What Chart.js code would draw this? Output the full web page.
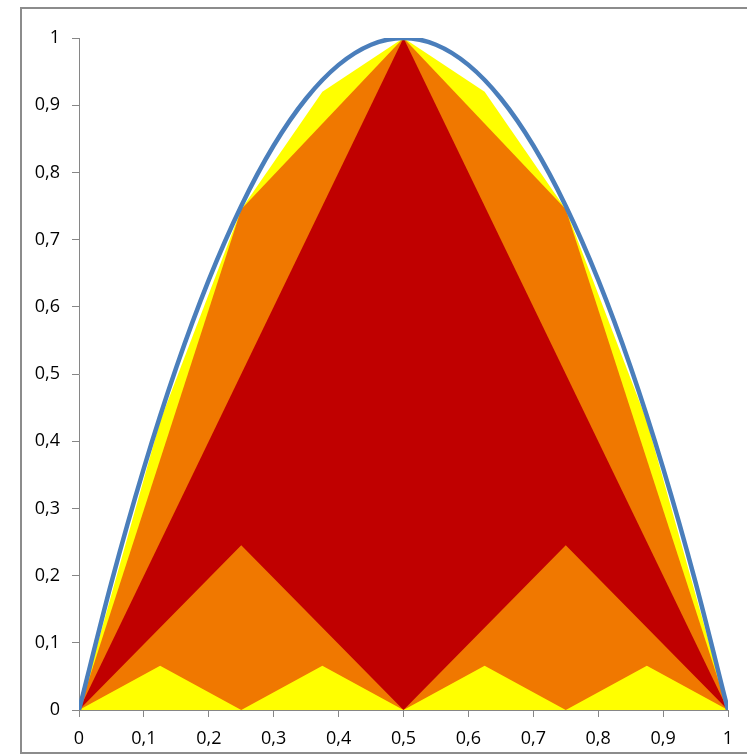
<!DOCTYPE html>
<html>
<head>
<meta charset="utf-8">
<script src="https://cdn.jsdelivr.net/npm/chart.js@4.4.0/dist/chart.umd.min.js"></script>
<style>
  body { margin: 0; background: #fff; }
  #wrap { width: 747px; height: 756px; }
</style>
</head>
<body>
<div id="wrap"><canvas id="chart" width="747" height="756"></canvas></div>
<script>
// dati
const xCurve = [0, 0.05, 0.1, 0.15, 0.2, 0.25, 0.3, 0.35, 0.4, 0.45, 0.5, 0.55, 0.6, 0.65, 0.7, 0.75, 0.8, 0.85, 0.9, 0.95, 1];
const yCurve = [0, 0.19, 0.36, 0.51, 0.64, 0.75, 0.84, 0.91, 0.96, 0.99, 1, 0.99, 0.96, 0.91, 0.84, 0.75, 0.64, 0.51, 0.36, 0.19, 0];

const xHalf = [0, 0.5, 1];
const yTent = [0, 1, 0];

const xQuarter = [0, 0.25, 0.5, 0.75, 1];
const yOrange = [0, 0.745, 1, 0.745, 0];
const yOrangeBumps = [0, 0.245, 0, 0.245, 0];

const xEighth = [0, 0.125, 0.25, 0.375, 0.5, 0.625, 0.75, 0.875, 1];
const yYellow = [0, 0.43, 0.745, 0.92, 1, 0.92, 0.745, 0.43, 0];
const yYellowBumps = [0, 0.066, 0, 0.066, 0, 0.066, 0, 0.066, 0];

const BLUE = '#4a7ebb';
const YELLOW = '#ffff00';
const ORANGE = '#f07800';
const RED = '#c00000';
const AXIS = '#868686';

function punti(xs, ys) {
    return xs.map((x, i) => ({ x: x, y: ys[i] }));
}

function area(label, xs, ys, color, order) {
    return {
        label: label,
        data: punti(xs, ys),
        backgroundColor: color,
        borderColor: color,
        borderWidth: 0,
        fill: 'origin',
        tension: 0,
        pointRadius: 0,
        order: order
    };
}

// cornice grigia
const cornice = {
    id: 'cornice',
    beforeDraw(chart) {
        const c = chart.ctx;
        c.save();
        c.fillStyle = '#fff';
        c.fillRect(0, 0, chart.width, chart.height);
        c.strokeStyle = '#8c8c8c';
        c.lineWidth = 2;
        c.strokeRect(21, 8, 760, 745);
        c.restore();
    }
};

function virgola(v) {
    const r = Math.round(v * 10) / 10;
    return String(r).replace('.', ',');
}

const config = {
    type: 'line',
    data: {
        datasets: [
            {
                label: 'parabola',
                data: punti(xCurve, yCurve),
                borderColor: BLUE,
                borderWidth: 4.5,
                fill: false,
                cubicInterpolationMode: 'monotone',
                pointRadius: 0,
                order: 0
            },
            area('bumps 3', xEighth, yYellowBumps, YELLOW, 1),
            area('bumps 2', xQuarter, yOrangeBumps, ORANGE, 2),
            area('tent', xHalf, yTent, RED, 3),
            area('approx 2', xQuarter, yOrange, ORANGE, 4),
            area('approx 3', xEighth, yYellow, YELLOW, 5)
        ]
    },
    options: {
        responsive: false,
        animation: false,
        layout: { padding: { left: 0, right: 19, top: 38, bottom: 0 } },
        scales: {
            x: {
                type: 'linear',
                min: 0,
                max: 1,
                afterFit: s => { s.height = 46; },
                ticks: {
                    stepSize: 0.1,
                    callback: virgola,
                    color: '#000',
                    padding: 11,
                    maxRotation: 0,
                    font: { family: 'Open Sans', size: 18 }
                },
                grid: { drawOnChartArea: false, drawTicks: true, tickLength: 7, color: AXIS },
                border: { color: AXIS, width: 1 }
            },
            y: {
                min: 0,
                max: 1,
                afterFit: s => { s.width = 79; },
                ticks: {
                    stepSize: 0.1,
                    callback: virgola,
                    color: '#000',
                    padding: 12,
                    font: { family: 'Open Sans', size: 18 }
                },
                grid: { drawOnChartArea: false, drawTicks: true, tickLength: 7, color: AXIS },
                border: { color: AXIS, width: 1 }
            }
        },
        plugins: {
            legend: { display: false },
            tooltip: { enabled: false }
        }
    },
    plugins: [cornice]
};

new Chart(document.getElementById('chart').getContext('2d'), config);
</script>
</body>
</html>
